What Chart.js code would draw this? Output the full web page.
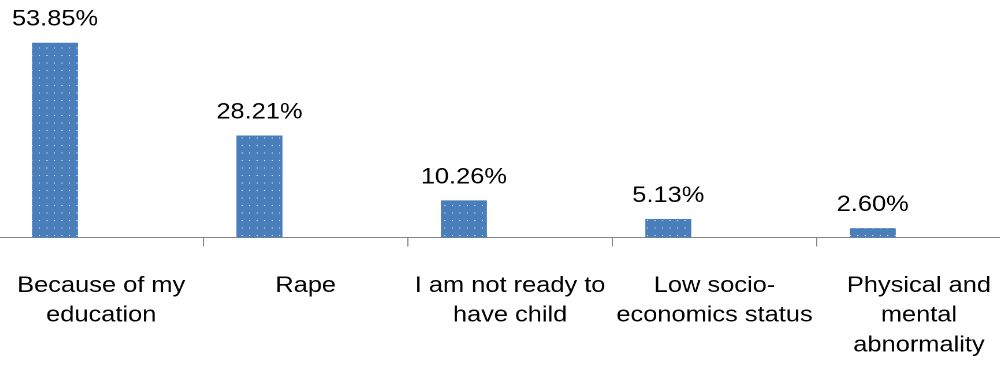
<!DOCTYPE html>
<html>
<head>
<meta charset="utf-8">
<script src="https://cdn.jsdelivr.net/npm/chart.js@4/dist/chart.umd.min.js"></script>
<style>
  html, body { margin: 0; padding: 0; background: #ffffff; overflow: hidden; }
  #wrap {
    position: absolute; left: -1px; top: 0;
    width: 885px; height: 365px;
    transform: scaleX(1.155); transform-origin: 0 0;
  }
</style>
</head>
<body>
<div id="wrap"><canvas id="c"></canvas></div>
<script>
// ---- data ----
const categories = [
  ["Because of my", "education"],
  ["Rape"],
  ["I am not ready to", "have child"],
  ["Low socio-", "economics status"],
  ["Physical and", "mental", "abnormality"]
];
const values = [53.85, 28.21, 10.26, 5.13, 2.60];
const valueLabels = ["53.85%", "28.21%", "10.26%", "5.13%", "2.60%"];
const emptySeries = [null, null, null, null, null];

// ---- styles ----
const FONT = '"Liberation Sans", Arial, sans-serif';
const AXIS_GRAY = '#868686';

function makeDotPattern() {
  const pc = document.createElement('canvas');
  pc.width = 13; pc.height = 15;
  const g = pc.getContext('2d');
  g.fillStyle = '#4a7ebb';
  g.fillRect(0, 0, pc.width, pc.height);
  g.fillStyle = 'rgba(235,242,252,0.85)';
  g.fillRect(4, 5, 2, 2);
  const ctx = document.getElementById('c').getContext('2d');
  const pat = ctx.createPattern(pc, 'repeat');
  if (pat.setTransform) pat.setTransform(new DOMMatrix().scale(0.5));
  return pat;
}

const valueLabelPlugin = {
  id: 'valueLabels',
  afterDatasetsDraw(chart) {
    const ctx = chart.ctx;
    const meta = chart.getDatasetMeta(0);
    ctx.save();
    ctx.font = '22px ' + FONT;
    ctx.fillStyle = '#000000';
    ctx.textAlign = 'center';
    ctx.textBaseline = 'alphabetic';
    meta.data.forEach((bar, i) => {
      ctx.fillText(valueLabels[i], bar.x, bar.y - 17);
    });
    ctx.restore();
  }
};

new Chart(document.getElementById('c'), {
  type: 'bar',
  data: {
    labels: categories,
    datasets: [
      {
        data: values,
        backgroundColor: makeDotPattern(),
        borderWidth: 0,
        categoryPercentage: 0.904,
        barPercentage: 0.498
      },
      {
        data: emptySeries,
        backgroundColor: 'rgba(0,0,0,0)',
        categoryPercentage: 0.904,
        barPercentage: 0.498
      }
    ]
  },
  options: {
    responsive: true,
    maintainAspectRatio: false,
    devicePixelRatio: 2,
    animation: false,
    layout: { padding: { top: 20.5, left: 0, right: 0, bottom: 0 } },
    plugins: {
      legend: { display: false },
      tooltip: { enabled: false }
    },
    scales: {
      x: {
        offset: true,
        grid: {
          display: true,
          offset: true,
          drawOnChartArea: false,
          drawTicks: true,
          tickLength: 9,
          color: AXIS_GRAY,
          lineWidth: 1
        },
        border: { display: true, color: AXIS_GRAY, width: 1 },
        ticks: {
          color: '#000000',
          padding: 24.5,
          maxRotation: 0,
          autoSkip: false,
          font: { family: FONT, size: 22, lineHeight: 1.35 }
        },
        afterFit(scale) {
          scale.height = 365 - 237.5;
          scale.paddingLeft = 0;
          scale.paddingRight = 0;
        }
      },
      y: {
        display: false,
        min: 0,
        max: 60
      }
    }
  },
  plugins: [valueLabelPlugin]
});
</script>
</body>
</html>
